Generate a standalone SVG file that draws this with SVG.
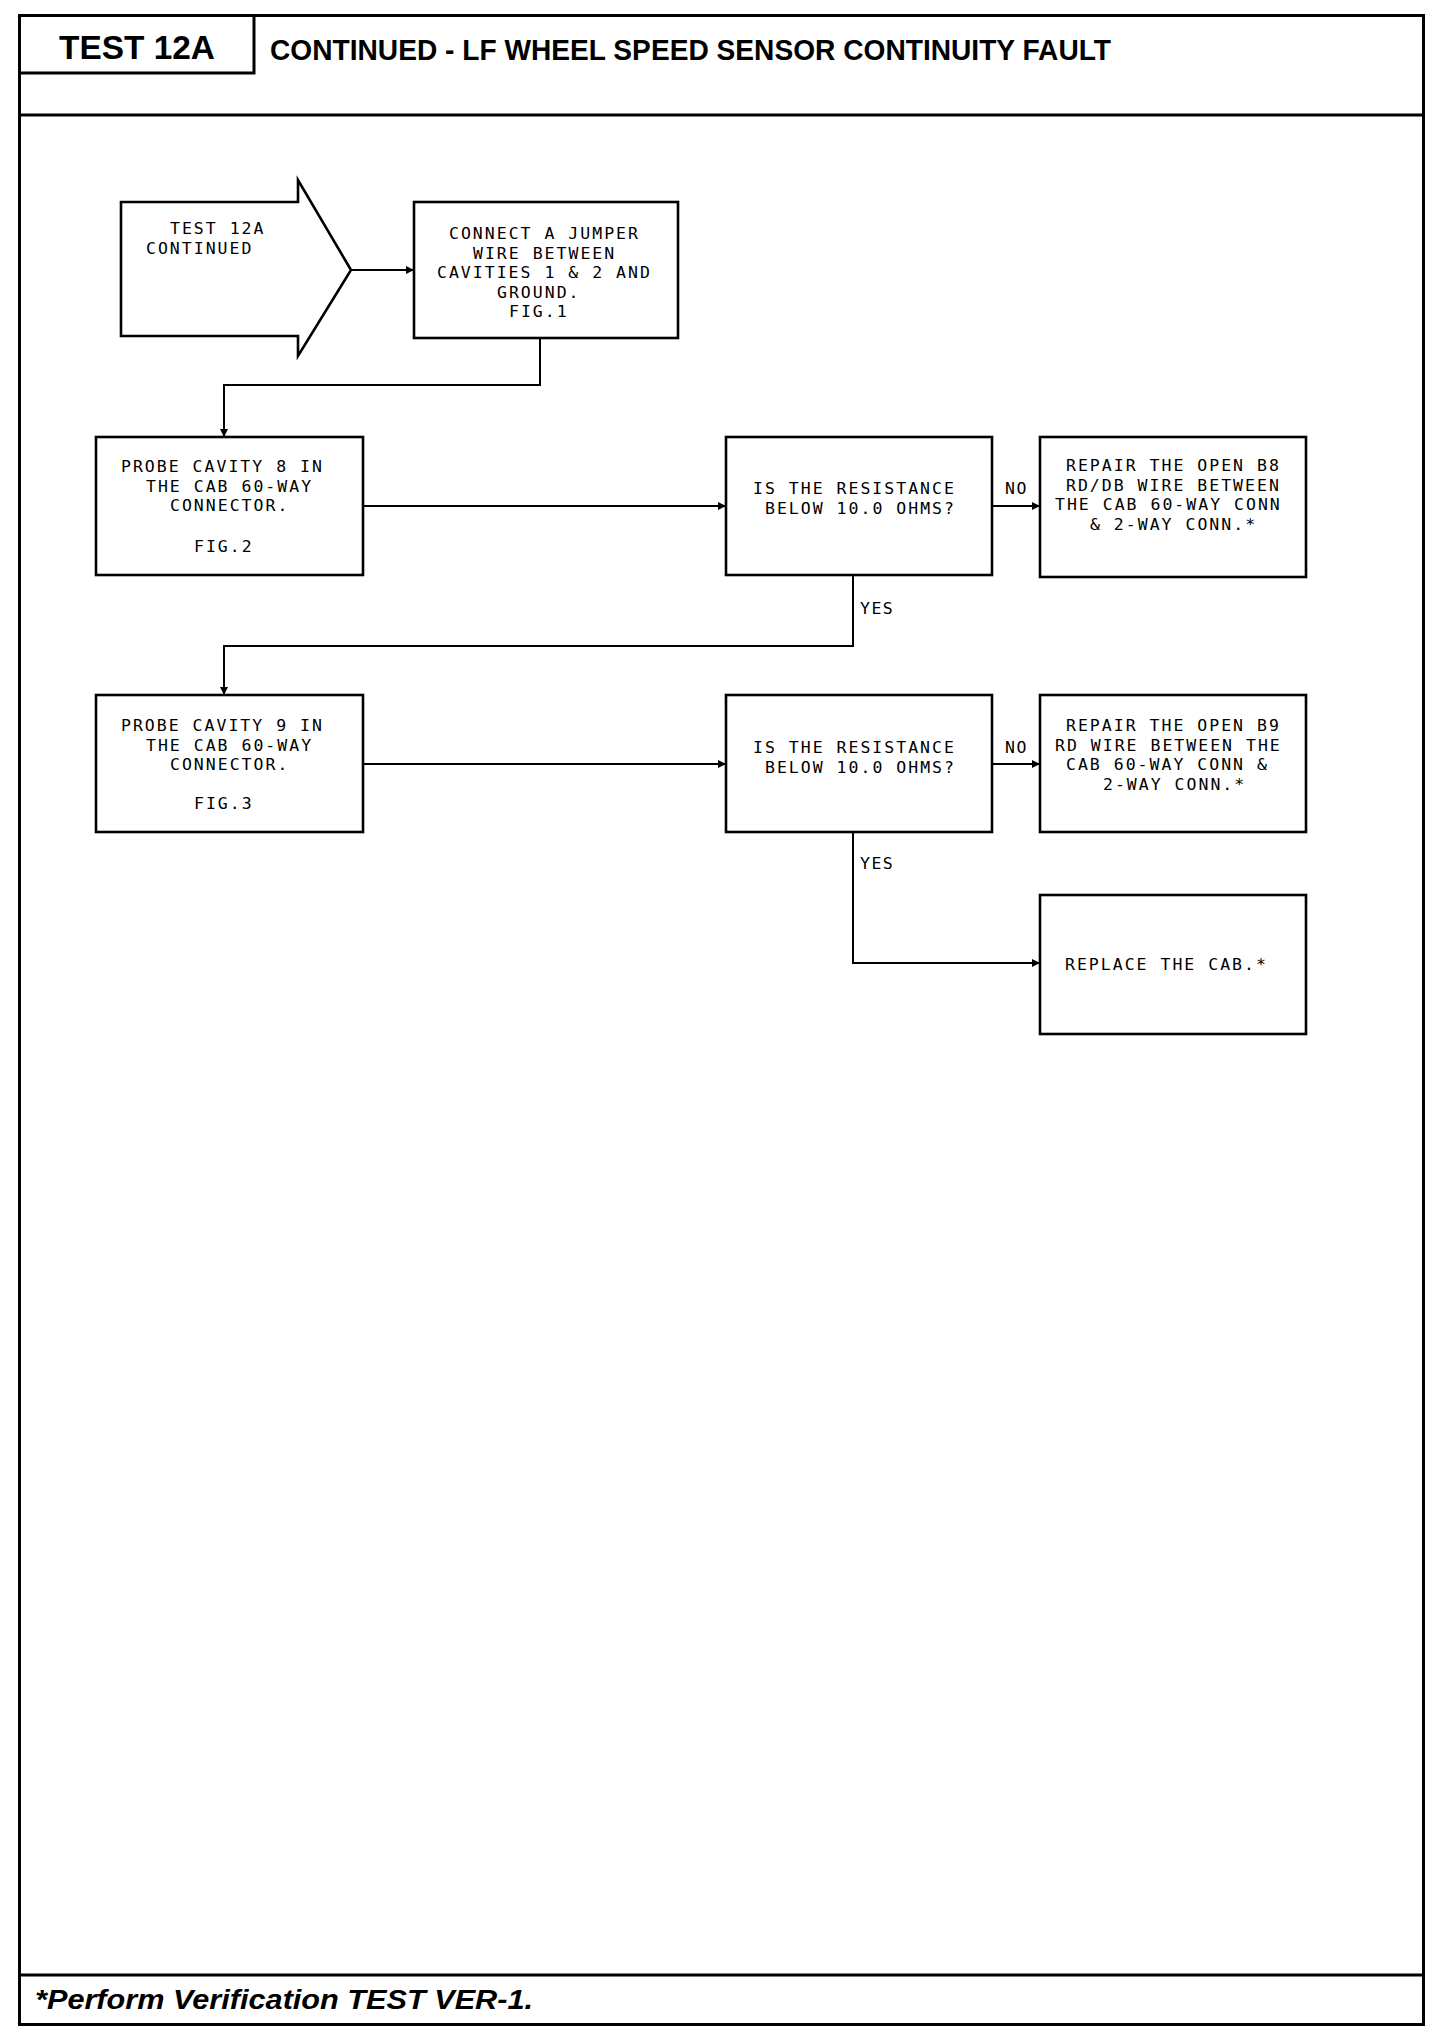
<svg xmlns="http://www.w3.org/2000/svg" width="1456" height="2040" viewBox="0 0 1456 2040">
<defs>
<marker id="ah" viewBox="0 0 10 10" refX="10" refY="5" markerWidth="10" markerHeight="8" markerUnits="userSpaceOnUse" orient="auto">
<path d="M0,0 L10,5 L0,10 z" fill="#000"/>
</marker>
<style>
.frame{fill:none;stroke:#000;stroke-width:3}
.box{fill:#fff;stroke:#000;stroke-width:2.6}
.conn{fill:none;stroke:#000;stroke-width:2}
.t{font-family:"DejaVu Sans Mono","Liberation Mono",monospace;font-size:16.5px;letter-spacing:2px;fill:#000}
.lbl{font-family:"DejaVu Sans Mono","Liberation Mono",monospace;font-size:16.5px;letter-spacing:1.5px;fill:#000}
.hd{font-family:"Liberation Sans",Arial,sans-serif;font-weight:bold;fill:#000}
.ft{font-family:"Liberation Sans",Arial,sans-serif;font-weight:bold;font-style:italic;font-size:27px;fill:#000}
</style>
</defs>
<rect width="1456" height="2040" fill="#fff"/>
<g id="frame">
<rect class="frame" x="19.5" y="15.5" width="1404" height="2009"/>
<line class="frame" x1="19.5" y1="115" x2="1423.5" y2="115"/>
<line class="frame" x1="19.5" y1="1975" x2="1423.5" y2="1975"/>
<polyline class="frame" points="19.5,73 254,73 254,15.5"/>
<text class="hd" x="59" y="59" font-size="34" textLength="156" lengthAdjust="spacingAndGlyphs">TEST 12A</text>
<text class="hd" x="270" y="60" font-size="29" textLength="841" lengthAdjust="spacingAndGlyphs">CONTINUED - LF WHEEL SPEED SENSOR CONTINUITY FAULT</text>
<text class="ft" x="35" y="2009" textLength="498" lengthAdjust="spacingAndGlyphs">*Perform Verification TEST VER-1.</text>
</g>
<g id="connectors">
<line class="conn" x1="351" y1="270" x2="414" y2="270" marker-end="url(#ah)"/>
<polyline class="conn" points="540,338 540,385 224,385 224,437" marker-end="url(#ah)"/>
<line class="conn" x1="363" y1="506" x2="726" y2="506" marker-end="url(#ah)"/>
<line class="conn" x1="992" y1="506" x2="1040" y2="506" marker-end="url(#ah)"/>
<polyline class="conn" points="853,575 853,646 224,646 224,695" marker-end="url(#ah)"/>
<line class="conn" x1="363" y1="764" x2="726" y2="764" marker-end="url(#ah)"/>
<line class="conn" x1="992" y1="764" x2="1040" y2="764" marker-end="url(#ah)"/>
<polyline class="conn" points="853,832 853,963 1040,963" marker-end="url(#ah)"/>
<text class="lbl" x="1005" y="494">NO</text>
<text class="lbl" x="860" y="614">YES</text>
<text class="lbl" x="1005" y="753">NO</text>
<text class="lbl" x="860" y="869">YES</text>
</g>
<g id="start">
<polygon class="box" points="121,202 298,202 298,180 351,270 298,356 298,336 121,336"/>
<text class="t" x="170" y="234">TEST 12A</text>
<text class="t" x="146" y="254">CONTINUED</text>
</g>
<g id="jumper">
<rect class="box" x="414" y="202" width="264" height="136"/>
<text class="t" x="449" y="239">CONNECT A JUMPER</text>
<text class="t" x="473" y="258.5">WIRE BETWEEN</text>
<text class="t" x="437" y="278">CAVITIES 1 &amp; 2 AND</text>
<text class="t" x="497" y="297.5">GROUND.</text>
<text class="t" x="509" y="317">FIG.1</text>
</g>
<g id="probe8">
<rect class="box" x="96" y="437" width="267" height="138"/>
<text class="t" x="121" y="472">PROBE CAVITY 8 IN</text>
<text class="t" x="146" y="491.5">THE CAB 60-WAY</text>
<text class="t" x="170" y="511">CONNECTOR.</text>
<text class="t" x="194" y="552">FIG.2</text>
</g>
<g id="res1">
<rect class="box" x="726" y="437" width="266" height="138"/>
<text class="t" x="753" y="494">IS THE RESISTANCE</text>
<text class="t" x="765" y="513.5">BELOW 10.0 OHMS?</text>
</g>
<g id="repair8">
<rect class="box" x="1040" y="437" width="266" height="140"/>
<text class="t" x="1066" y="471">REPAIR THE OPEN B8</text>
<text class="t" x="1066" y="490.5">RD/DB WIRE BETWEEN</text>
<text class="t" x="1055" y="510">THE CAB 60-WAY CONN</text>
<text class="t" x="1090" y="529.5">&amp; 2-WAY CONN.*</text>
</g>
<g id="probe9">
<rect class="box" x="96" y="695" width="267" height="137"/>
<text class="t" x="121" y="731">PROBE CAVITY 9 IN</text>
<text class="t" x="146" y="750.5">THE CAB 60-WAY</text>
<text class="t" x="170" y="770">CONNECTOR.</text>
<text class="t" x="194" y="809">FIG.3</text>
</g>
<g id="res2">
<rect class="box" x="726" y="695" width="266" height="137"/>
<text class="t" x="753" y="753">IS THE RESISTANCE</text>
<text class="t" x="765" y="772.5">BELOW 10.0 OHMS?</text>
</g>
<g id="repair9">
<rect class="box" x="1040" y="695" width="266" height="137"/>
<text class="t" x="1066" y="731">REPAIR THE OPEN B9</text>
<text class="t" x="1055" y="750.5">RD WIRE BETWEEN THE</text>
<text class="t" x="1066" y="770">CAB 60-WAY CONN &amp;</text>
<text class="t" x="1103" y="789.5">2-WAY CONN.*</text>
</g>
<g id="replace">
<rect class="box" x="1040" y="895" width="266" height="139"/>
<text class="t" x="1065" y="970">REPLACE THE CAB.*</text>
</g>
</svg>
